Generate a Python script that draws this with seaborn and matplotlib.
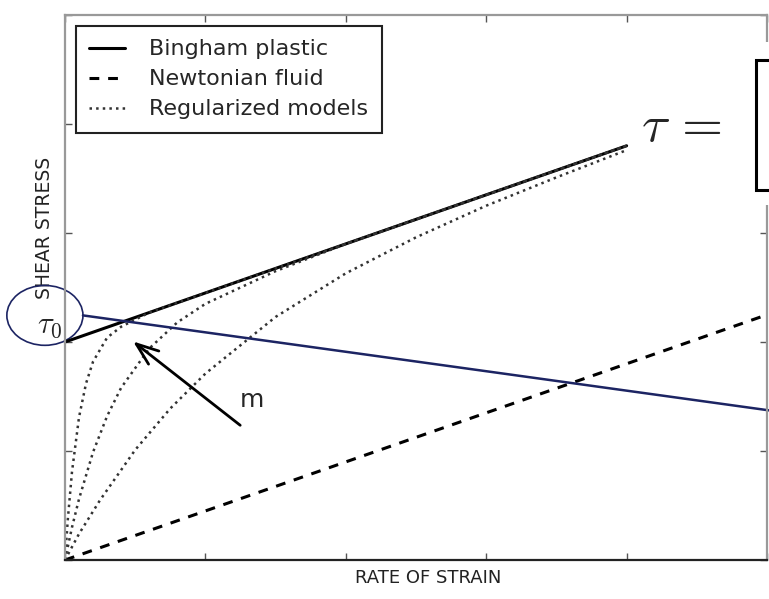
import numpy as np
import pandas as pd
import seaborn as sns
import matplotlib.pyplot as plt
from matplotlib.patches import Ellipse, Rectangle

# %%
# values (data units: axes go 0..5 on both sides)
bingham_x = [0.0, 4.0]
bingham_y = [2.0, 3.8]

newton_x = [0.0, 5.0]
newton_y = [0.0, 2.25]

# regularized curves, steep / middle / shallow
reg1_x = [0.0, 0.02, 0.05, 0.1, 0.15, 0.2, 0.3, 0.4, 0.6, 1.0, 2.0, 3.0, 4.0]
reg1_y = [0.0, 0.37, 0.81, 1.31, 1.62, 1.82, 2.04, 2.14, 2.27, 2.45, 2.9, 3.35, 3.8]

reg2_x = [0.0, 0.05, 0.1, 0.2, 0.3, 0.4, 0.6, 0.8, 1.0, 1.5, 2.0, 3.0, 4.0]
reg2_y = [0.0, 0.30, 0.56, 0.99, 1.32, 1.58, 1.94, 2.18, 2.35, 2.65, 2.90, 3.35, 3.8]

reg3_x = [0.0, 0.1, 0.25, 0.5, 0.75, 1.0, 1.5, 2.0, 2.5, 3.0, 3.5, 4.0]
reg3_y = [0.0, 0.24, 0.55, 1.01, 1.39, 1.71, 2.23, 2.63, 2.96, 3.25, 3.51, 3.76]

labels = ["Bingham plastic", "Newtonian fluid", "Regularized models"]
ticks = [0, 1, 2, 3, 4, 5]

# %%
sns.set_style("ticks", {"xtick.direction": "in", "ytick.direction": "in"})
plt.rcParams["font.family"] = ["DejaVu Sans"]
plt.rcParams["mathtext.fontset"] = "cm"

fig = plt.figure(figsize=(7.69, 5.99), dpi=100)
ax = fig.add_axes([0.0845, 0.0651, 0.9974 - 0.0845, 0.975 - 0.0651])

sns.lineplot(x=bingham_x, y=bingham_y, ax=ax, color="black", lw=2.2, label=labels[0])
sns.lineplot(x=newton_x, y=newton_y, ax=ax, color="black", lw=2.2,
             linestyle=(0, (3.2, 2.9)), label=labels[1])
sns.lineplot(x=reg1_x, y=reg1_y, ax=ax, color="#333333", lw=1.8, linestyle=":",
             label=labels[2], sort=False)
sns.lineplot(x=reg2_x, y=reg2_y, ax=ax, color="#333333", lw=1.8, linestyle=":", sort=False)
sns.lineplot(x=reg3_x, y=reg3_y, ax=ax, color="#333333", lw=1.8, linestyle=":", sort=False)

ax.set_xlim(0, 5)
ax.set_ylim(0, 5)
ax.set_xticks(ticks)
ax.set_yticks(ticks)
ax.set_xticklabels([])
ax.set_yticklabels([])
ax.tick_params(which="both", top=True, right=True, length=5, width=1, color="#555555")
for side in ["left", "right", "top"]:
    ax.spines[side].set_color("#999999")
    ax.spines[side].set_linewidth(1.6)
ax.spines["bottom"].set_color("#222222")
ax.spines["bottom"].set_linewidth(1.6)

ax.set_xlabel("RATE OF STRAIN", fontsize=13, color="#222222")
ax.set_ylabel("SHEAR STRESS", fontsize=13.5, color="#222222")
ax.xaxis.set_label_coords(0.517, -0.016)
ax.yaxis.set_label_coords(-0.016, 0.609)

leg = ax.legend(loc="upper left", fontsize=16, frameon=True, fancybox=False,
                borderaxespad=0.5, borderpad=0.6, handlelength=1.6,
                handletextpad=1.1, labelspacing=0.45)
leg.get_frame().set_edgecolor("#222222")
leg.get_frame().set_linewidth(1.5)
leg.get_frame().set_alpha(1)

# tau_0 ellipse and the navy line
navy = "#1c2463"
ax.add_patch(Ellipse((-0.143, 2.244), 0.542, 0.549, fill=False, edgecolor=navy,
                     lw=1.2, clip_on=False))
ax.plot([0.128, 5.03], [2.244, 1.370], color=navy, lw=1.8, clip_on=False)
ax.text(-0.107, 2.152, r"$\tau_0$", fontsize=22, ha="center", va="center")

# arrow with m
ax.annotate("", xy=(0.485, 2.005), xytext=(1.248, 1.236),
            arrowprops=dict(arrowstyle="->,head_length=1.6,head_width=0.6",
                            lw=2, color="black", shrinkA=0, shrinkB=0))
ax.text(1.248, 1.40, "m", fontsize=18, ha="left", va="baseline")

# pasted equation fragment on the right
fig.add_artist(Rectangle((0.832, 0.6578), 0.2, 0.9299 - 0.6578,
                         transform=fig.transFigure, facecolor="white",
                         edgecolor="none", zorder=5))
fig.text(0.834, 0.79, r"$\tau\,=$", fontsize=38, ha="left", va="center", zorder=6)
fig.add_artist(Rectangle((0.983, 0.6828), 0.1, 0.8998 - 0.6828,
                         transform=fig.transFigure, facecolor="white",
                         edgecolor="black", lw=2.2, zorder=6))

fig.savefig("out.png", dpi=100)
